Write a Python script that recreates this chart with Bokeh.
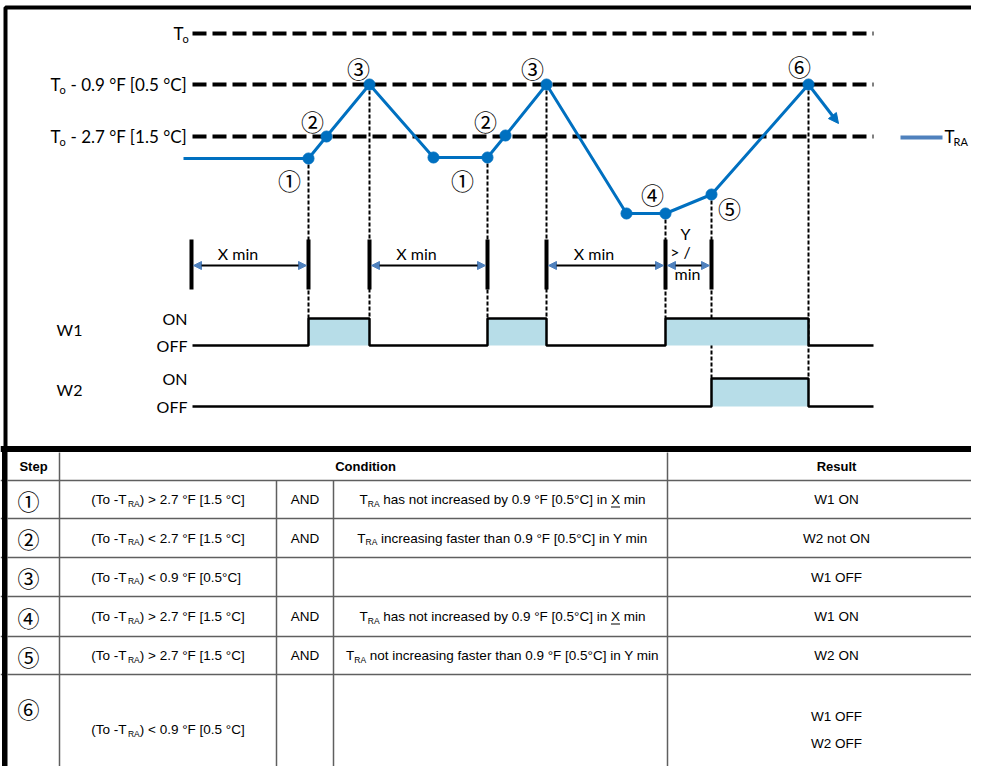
from bokeh.plotting import figure
from bokeh.models import Range1d, ColumnDataSource, Arrow, NormalHead
from bokeh.core.properties import value
from bokeh.embed import file_html
from bokeh.resources import INLINE

# ---------------- data ----------------
# threshold levels of the diagram (diagram units, y grows downwards)
level_rest = ["", "- 0.9 °F [0.5 °C]", "- 2.7 °F [1.5 °C]"]
level_y = [33, 84, 136]
level_label_x = [173, 50, 50]
level_span = [192, 873]

# T_RA trace (time, level)
tra_t = [183, 308, 326, 369, 433, 487, 505, 546, 626, 665, 711, 808, 838]
tra_v = [158, 158, 136, 84, 157, 157, 135, 84, 213, 213, 194, 84, 123]

# circled step markers on the trace
step_marks = ["①", "②", "③", "①", "②", "③", "④", "⑤", "⑥"]
step_mark_t = [289, 312, 358, 462, 485, 532, 652, 729, 799]
step_mark_v = [179, 120, 67, 179, 120, 67, 193, 207, 65]

# events (dotted verticals) : time, level on trace, stage they drop to
event_t = [308, 369, 487, 546, 665, 711, 808]
event_v = [158, 84, 157, 84, 213, 194, 84]
event_to = ["W1", "W1", "W1", "W1", "W1", "W2", "W2"]

# timers
timer_marks = [191, 308, 369, 487, 546, 665, 711]
timer_start = [191, 369, 546, 665]
timer_end = [308, 487, 665, 711]
timer_label = ["X min", "X min", "X min", ""]

# stage on/off periods
w1_on = [308, 487, 665]
w1_off = [369, 546, 808]
w2_on = [711]
w2_off = [808]
stage_names = ["W1", "W2"]

# table
steps = ["①", "②", "③", "④", "⑤", "⑥"]
cond_op = [">", "<", "< ", ">", ">", "<"]
cond_val = ["2.7 °F [1.5 °C]", "2.7 °F [1.5 °C]", "0.9 °F [0.5°C]",
            "2.7 °F [1.5 °C]", "2.7 °F [1.5 °C]", "0.9 °F [0.5 °C]"]
cond_and = ["AND", "AND", "", "AND", "AND", ""]
cond_b = [
    [("T", "n"), ("RA", "s"), (" has not increased by 0.9 °F [0.5°C] in ", "n"), ("X", "u"), (" min", "n")],
    [("T", "n"), ("RA", "s"), (" increasing faster than 0.9 °F [0.5°C] in Y min", "n")],
    [],
    [("T", "n"), ("RA", "s"), (" has not increased by 0.9 °F [0.5°C] in ", "n"), ("X", "u"), (" min", "n")],
    [("T", "n"), ("RA", "s"), (" not increasing faster than 0.9 °F [0.5°C] in Y min", "n")],
    [],
]
results = [["W1 ON"], ["W2 not ON"], ["W1 OFF"], ["W1 ON"], ["W2 ON"], ["W1 OFF", "W2 OFF"]]
col_edges = [0, 59, 276, 333, 667, 971]
row_edges = [452, 480, 518, 557, 596, 636, 674, 766]

# ---------------- styles ----------------
BLUE = "#0070C0"
LEG_BLUE = "#4F81BD"
FILL = "#B7DDE8"
GRID = "#5f5f5f"
CF = value("Lato")
TF = value("Liberation Sans")
CIRC = value("Noto Sans CJK JP")

W_LEVEL = {"W1": (345, 318), "W2": (406, 378)}

p = figure(width=971, height=766, x_range=Range1d(0, 971), y_range=Range1d(766, 0),
           output_backend="svg", toolbar_location=None, min_border=0,
           x_axis_location=None, y_axis_location=None)
p.grid.visible = False
p.outline_line_color = None
p.background_fill_color = "white"
p.border_fill_color = "white"

# ---- threshold lines ----
for y in level_y:
    p.line(level_span, [y, y], line_color="black", line_width=4, line_dash="14 6")

lab = dict(x=[], y=[], t=[])
sub = dict(x=[], y=[], t=[])
for x0, y, rest in zip(level_label_x, level_y, level_rest):
    lab["x"].append(x0); lab["y"].append(y); lab["t"].append("T")
    sub["x"].append(x0 + 9); sub["y"].append(y + 5); sub["t"].append("o")
    if rest:
        lab["x"].append(x0 + 20); lab["y"].append(y); lab["t"].append(rest)
p.text(x="x", y="y", text="t", source=ColumnDataSource(lab), text_font=CF,
       text_font_size="17px", text_baseline="middle", text_align="left", text_color="black")
p.text(x="x", y="y", text="t", source=ColumnDataSource(sub), text_font=CF,
       text_font_size="11px", text_baseline="middle", text_align="left", text_color="black")

# ---- dotted event verticals ----
for t, v, stg in zip(event_t, event_v, event_to):
    p.line([t, t], [v, W_LEVEL[stg][1]], line_color="black", line_width=2, line_dash="4 2")

# ---- stage waveforms ----
for name, ons, offs in (("W1", w1_on, w1_off), ("W2", w2_on, w2_off)):
    off_y, on_y = W_LEVEL[name]
    p.quad(left=ons, right=offs, top=[on_y] * len(ons), bottom=[off_y] * len(ons),
           fill_color=FILL, line_color=None)
    xs, ys = [level_span[0]], [off_y]
    for a, b in zip(ons, offs):
        xs += [a, a, b, b]
        ys += [off_y, on_y, on_y, off_y]
    xs.append(level_span[1]); ys.append(off_y)
    p.line(xs, ys, line_color="black", line_width=2.5)

wl = dict(x=[], y=[], t=[], a=[])
for name in stage_names:
    off_y, on_y = W_LEVEL[name]
    wl["x"] += [69, 187, 187]
    wl["y"] += [(off_y + on_y) / 2 - 3, on_y, off_y]
    wl["t"] += [name, "ON", "OFF"]
    wl["a"] += ["center", "right", "right"]
p.text(x="x", y="y", text="t", text_align="a", source=ColumnDataSource(wl), text_font=CF,
       text_font_size="16px", text_baseline="middle", text_color="black")

# ---- timers ----
p.segment(x0=timer_marks, y0=[239] * len(timer_marks), x1=timer_marks, y1=[289] * len(timer_marks),
          line_color="black", line_width=4)
arr = ColumnDataSource(dict(x0=[a + 2 for a in timer_start], x1=[b - 2 for b in timer_end],
                            y=[265] * len(timer_start)))
p.add_layout(Arrow(source=arr, x_start="x0", y_start="y", x_end="x1", y_end="y",
                   line_color="black", line_width=2,
                   start=NormalHead(size=8, fill_color=LEG_BLUE, line_color=LEG_BLUE),
                   end=NormalHead(size=8, fill_color=LEG_BLUE, line_color=LEG_BLUE)))
tl = dict(x=[], y=[], t=[])
for a, b, s in zip(timer_start, timer_end, timer_label):
    if s:
        tl["x"].append((a + b) / 2 - 12); tl["y"].append(253); tl["t"].append(s)
tl["x"] += [685, 680, 687]; tl["y"] += [233, 251, 273]; tl["t"] += ["Y", "> /", "min"]
p.text(x="x", y="y", text="t", source=ColumnDataSource(tl), text_font=CF,
       text_font_size="16px", text_baseline="middle", text_align="center", text_color="black")

# ---- T_RA trace ----
p.line(tra_t[:-1], tra_v[:-1], line_color=BLUE, line_width=3)
p.scatter(tra_t[1:-1], tra_v[1:-1], size=11, fill_color=BLUE, line_color=BLUE)
p.add_layout(Arrow(x_start=tra_t[-2], y_start=tra_v[-2], x_end=tra_t[-1], y_end=tra_v[-1],
                   line_color=BLUE, line_width=3,
                   end=NormalHead(size=10, fill_color=BLUE, line_color=BLUE)))
p.text(x=step_mark_t, y=step_mark_v, text=step_marks, text_font=CIRC, text_font_size="23px",
       text_align="center", text_baseline="middle", text_color="black")

# legend
p.line([900, 942], [137, 137], line_color=LEG_BLUE, line_width=4)
p.text(x=[944], y=[136], text=["T"], text_font=CF, text_font_size="17px",
       text_baseline="middle", text_align="left", text_color="black")
p.text(x=[953], y=[141], text=["RA"], text_font=CF, text_font_size="11px",
       text_baseline="middle", text_align="left", text_color="black")

# ---- frame of the upper panel ----
p.line([971, 5, 5], [7, 7, 766], line_color="black", line_width=4)
p.line([0, 971], [448.5, 448.5], line_color="black", line_width=6)

# ---- table ----
AW = {" ": 278, "(": 333, ")": 333, "-": 333, ".": 278, "°": 400, "[": 278, "]": 278,
      "<": 584, ">": 584, "A": 667, "C": 722, "F": 611, "R": 722, "T": 611, "X": 667,
      "Y": 667, "a": 556, "b": 556, "c": 500, "d": 556, "e": 556, "f": 278, "g": 556,
      "h": 556, "i": 222, "m": 833, "n": 556, "o": 556, "r": 333, "s": 500, "t": 278,
      "y": 500}


def tw(s, fs):
    return sum(AW.get(c, 556) for c in s) * fs / 1000.0


FS, SFS = 13.5, 8.5
nt = dict(x=[], y=[], t=[])
st = dict(x=[], y=[], t=[])
ul = dict(x0=[], x1=[], y=[])


def rich(segs, cx, cy):
    total = sum(tw(t, SFS if k == "s" else FS) for t, k in segs)
    x = cx - total / 2
    for t, k in segs:
        fs = SFS if k == "s" else FS
        lead = len(t) - len(t.lstrip(" "))
        core = t.strip(" ")
        xd = x + tw(" " * lead, fs)
        if k == "s":
            st["x"].append(xd); st["y"].append(cy + 4); st["t"].append(core)
        else:
            nt["x"].append(xd); nt["y"].append(cy); nt["t"].append(core)
            if k == "u":
                ul["x0"].append(xd); ul["x1"].append(xd + tw(core, fs)); ul["y"].append(cy + 7.5)
        x += tw(t, fs)


ct = dict(x=[], y=[], t=[])
circ = dict(x=[], y=[], t=[])
for i in range(len(steps)):
    top, bot = row_edges[i + 1], row_edges[i + 2]
    cy = (top + bot) / 2 if i < 5 else 729
    circ["x"].append(28); circ["y"].append(cy if i < 5 else 707); circ["t"].append(steps[i])
    rich([("(To -T", "n"), ("RA", "s"), (") " + cond_op[i] + " " + cond_val[i], "n")],
         (col_edges[1] + col_edges[2]) / 2, cy)
    if cond_and[i]:
        ct["x"].append((col_edges[2] + col_edges[3]) / 2); ct["y"].append(cy); ct["t"].append(cond_and[i])
    if cond_b[i]:
        rich(cond_b[i], (col_edges[3] + col_edges[4]) / 2 + 2, cy)
    rs = results[i]
    for j, r in enumerate(rs):
        ct["x"].append(836)
        ct["y"].append(cy if len(rs) == 1 else cy - 13 + 27 * j)
        ct["t"].append(r)

# grid lines
gx0, gx1, gy0, gy1 = [], [], [], []
for y in row_edges[1:-1]:
    gx0.append(col_edges[0]); gx1.append(col_edges[-1]); gy0.append(y); gy1.append(y)
for k, x in enumerate(col_edges[1:-1]):
    start = row_edges[0] if k in (0, 3) else row_edges[1]
    gx0.append(x); gx1.append(x); gy0.append(start); gy1.append(row_edges[-1])
p.segment(x0=gx0, y0=gy0, x1=gx1, y1=gy1, line_color=GRID, line_width=1.5)

hdr_y = (row_edges[0] + row_edges[1]) / 2
p.text(x=[33, (col_edges[1] + col_edges[4]) / 2 + 2, 836], y=[hdr_y] * 3,
       text=["Step", "Condition", "Result"], text_font=TF, text_font_size="13px",
       text_font_style="bold", text_align="center", text_baseline="middle", text_color="black")
p.text(x="x", y="y", text="t", source=ColumnDataSource(ct), text_font=TF, text_font_size="13.5px",
       text_align="center", text_baseline="middle", text_color="black")
p.text(x="x", y="y", text="t", source=ColumnDataSource(nt), text_font=TF, text_font_size="13.5px",
       text_align="left", text_baseline="middle", text_color="black")
p.text(x="x", y="y", text="t", source=ColumnDataSource(st), text_font=TF, text_font_size="8.5px",
       text_align="left", text_baseline="middle", text_color="black")
p.segment(x0="x0", y0="y", x1="x1", y1="y", source=ColumnDataSource(ul), line_color="black", line_width=1)
p.text(x="x", y="y", text="t", source=ColumnDataSource(circ), text_font=CIRC, text_font_size="22px",
       text_align="center", text_baseline="middle", text_color="black")

p.line([4, 4], [448, 766], line_color="black", line_width=5)

open("out.html", "w").write(file_html(p, INLINE))
